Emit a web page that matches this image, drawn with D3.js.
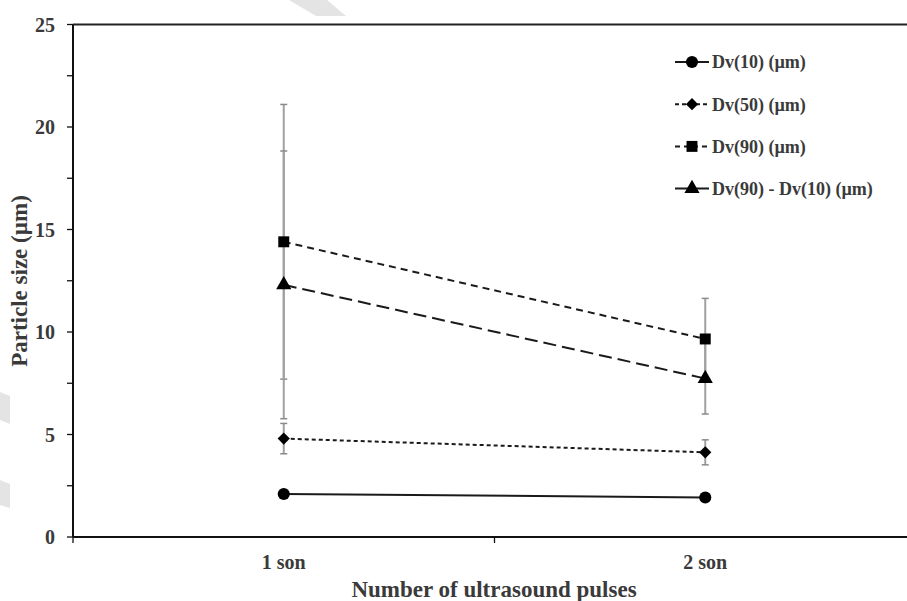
<!DOCTYPE html>
<meta charset="utf-8">
<script src="https://d3js.org/d3.v7.js"></script>
<style>
  body { margin: 0; background: #fff; }
  text { font-family: "Liberation Serif", "Times New Roman", serif; font-weight: bold; fill: #3a3a3a; }
</style>
<div id="chart"></div>
<script>
// data
var categories = ["1 son", "2 son"]
var dv10 = [2.1, 1.93], dv10Err = [0.1, 0.08]
var dv50 = [4.8, 4.13], dv50Err = [0.74, 0.61]
var dv90 = [14.4, 9.66], dv90Err = [6.7, 1.98]
var span = [12.3, 7.73], spanErr = [6.53, 1.73]
var yTicks = [0, 5, 10, 15, 20, 25]
var yMinor = [2.5, 7.5, 12.5, 17.5, 22.5]

var series = [
  {name: "Dv(10) (µm)", values: dv10, err: dv10Err, dash: null, legDash: null, shape: "circle"},
  {name: "Dv(50) (µm)", values: dv50, err: dv50Err, dash: "4,3", legDash: "4,3", shape: "diamond"},
  {name: "Dv(90) (µm)", values: dv90, err: dv90Err, dash: "7,5", legDash: "5,4", shape: "square"},
  {name: "Dv(90) - Dv(10) (µm)", values: span, err: spanErr, dash: "13,6", legDash: null, shape: "triangle"}
]

const W = 907, H = 601
const svg = d3.select("#chart").append("svg").attr("width", W).attr("height", H)

// faint watermark pieces in the background
var wm = [[[289,0],[327,0],[346,16],[316,16]], [[0,392],[10,396],[10,424],[0,420]], [[0,480],[10,484],[10,508],[0,505]]]
svg.selectAll(".wm").data(wm).join("polygon").attr("points", d => d.join(" ")).attr("fill", "#e4e4e4")

const x = d3.scaleBand().domain(categories).range([73, 916]).padding(0)
const y = d3.scaleLinear().domain([0, 25]).range([537, 24.5])
const cx = d => x(d) + x.bandwidth() / 2

// frame
svg.append("line").attr("x1", 73).attr("x2", 916).attr("y1", y(25)).attr("y2", y(25))
  .attr("stroke", "#222").attr("stroke-width", 2.2)

// y axis
const yAxis = svg.append("g").attr("transform", "translate(73,0)")
yAxis.append("line").attr("y1", y(0)).attr("y2", y(25)).attr("stroke", "#111").attr("stroke-width", 2)
yAxis.selectAll(".tk").data(yTicks.concat(yMinor)).join("line")
  .attr("x1", -6).attr("x2", 0).attr("y1", d => y(d)).attr("y2", d => y(d)).attr("stroke", "#111").attr("stroke-width", 1.3)
yAxis.selectAll(".lb").data(yTicks).join("text")
  .attr("x", -18).attr("y", d => y(d)).attr("dy", "0.35em").attr("text-anchor", "end")
  .style("font-size", "20px").text(d => d)

// x axis
const xAxis = svg.append("g").attr("transform", `translate(0,${y(0)})`)
xAxis.append("line").attr("x1", 73).attr("x2", 916).attr("stroke", "#111").attr("stroke-width", 2)
xAxis.selectAll(".tk").data(categories).join("line")
  .attr("x1", d => x(d)).attr("x2", d => x(d)).attr("y1", 0).attr("y2", 6).attr("stroke", "#111").attr("stroke-width", 1.3)
xAxis.selectAll(".lb").data(categories).join("text")
  .attr("x", cx).attr("y", 32).attr("text-anchor", "middle").style("font-size", "20px").text(d => d)

svg.append("text").attr("x", 494).attr("y", 597).attr("text-anchor", "middle")
  .style("font-size", "23px").text("Number of ultrasound pulses")
svg.append("text").attr("transform", "translate(27,281) rotate(-90)").attr("text-anchor", "middle")
  .style("font-size", "23px").text("Particle size (µm)")

// error bars
series.forEach(function(s) {
  const g = svg.append("g")
  categories.forEach(function(c, i) {
    const lo = y(s.values[i] - s.err[i]), hi = y(s.values[i] + s.err[i])
    g.append("line").attr("x1", cx(c)).attr("x2", cx(c)).attr("y1", lo).attr("y2", hi).attr("stroke", "#a0a0a0").attr("stroke-width", 2)
    ;[lo, hi].forEach(v => g.append("line").attr("x1", cx(c) - 3.5).attr("x2", cx(c) + 3.5).attr("y1", v).attr("y2", v)
      .attr("stroke", "#8a8a8a").attr("stroke-width", 1.5))
  })
})

// square diamond (rotated square)
const squareDiamond = {
  draw(ctx, size) {
    const r = Math.sqrt(size / 2)
    ctx.moveTo(0, -r); ctx.lineTo(r, 0); ctx.lineTo(0, r); ctx.lineTo(-r, 0); ctx.closePath()
  }
}
const symbols = {
  circle: d3.symbol().type(d3.symbolCircle).size(115),
  diamond: d3.symbol().type(squareDiamond).size(75),
  square: d3.symbol().type(d3.symbolSquare).size(120),
  triangle: d3.symbol().type(d3.symbolTriangle).size(100)
}

// lines + markers
const line = d3.line().x((d, i) => cx(categories[i])).y(d => y(d))
series.forEach(function(s) {
  svg.append("path").attr("d", line(s.values)).attr("fill", "none").attr("stroke", "#1a1a1a")
    .attr("stroke-width", 2).attr("stroke-dasharray", s.dash)
  svg.selectAll(null).data(s.values).join("path")
    .attr("transform", (d, i) => `translate(${cx(categories[i])},${y(d)})`)
    .attr("d", symbols[s.shape]).attr("fill", "#000")
})

// legend
const leg = svg.append("g")
series.forEach(function(s, i) {
  const ly = 62 + i * 42.2
  leg.append("line").attr("x1", 675).attr("x2", 709).attr("y1", ly).attr("y2", ly)
    .attr("stroke", "#1a1a1a").attr("stroke-width", 2).attr("stroke-dasharray", s.legDash)
  leg.append("path").attr("transform", `translate(692,${ly})`).attr("d", symbols[s.shape]).attr("fill", "#000")
  leg.append("text").attr("x", 712).attr("y", ly).attr("dy", "0.35em").style("font-size", "18px").text(s.name)
})
</script>
